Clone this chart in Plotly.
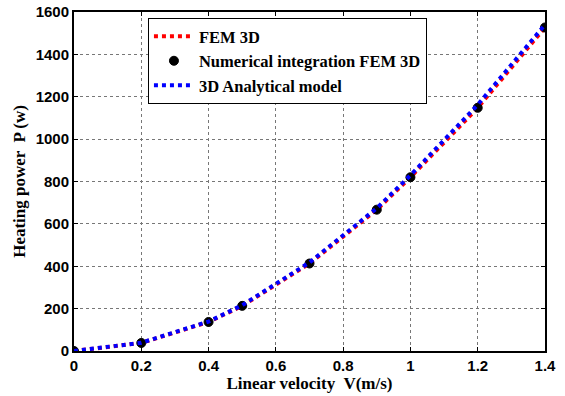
import plotly.graph_objects as go

v = [0, 0.2, 0.4, 0.5, 0.7, 0.9, 1.0, 1.2, 1.4]
fem3d = [0, 38, 137, 213, 413, 667, 820, 1148, 1527]
numint = [0, 38, 137, 213, 413, 667, 820, 1148, 1527]
analytic = [0, 39, 139, 216, 418, 674, 829, 1162, 1540]

fig = go.Figure()
fig.add_trace(go.Scatter(x=v, y=fem3d, mode="lines", name="FEM 3D",
                         line=dict(color="#ff0000", width=4, dash="dot")))
fig.add_trace(go.Scatter(x=v, y=numint, mode="markers", name="Numerical integration FEM 3D",
                         marker=dict(color="black", size=9, symbol="circle",
                                     line=dict(color="black", width=1))))
fig.add_trace(go.Scatter(x=v, y=analytic, mode="lines", name="3D Analytical model",
                         line=dict(color="#0000ff", width=4, dash="dot")))

tickfont = dict(family="Liberation Sans, Arial", size=15, color="black", weight="bold")
titlefont = dict(family="Liberation Serif, Times New Roman", size=17, color="black", weight="bold")

fig.update_layout(
    width=565, height=396,
    margin=dict(l=74, r=20, t=12, b=45, pad=0),
    paper_bgcolor="white", plot_bgcolor="white",
    showlegend=True,
    legend=dict(x=0.157, y=0.982, xanchor="left", yanchor="top",
                bgcolor="white", bordercolor="black", borderwidth=1,
                font=dict(family="Liberation Serif, Times New Roman", size=16.5,
                          color="black", weight="bold"),
                tracegroupgap=0, itemwidth=40),
    xaxis=dict(range=[0, 1.4], tickvals=[0, 0.2, 0.4, 0.6, 0.8, 1, 1.2, 1.4],
               ticktext=["0", "0.2", "0.4", "0.6", "0.8", "1", "1.2", "1.4"],
               showgrid=True, gridcolor="#777777", gridwidth=1, griddash="dot",
               showline=True, linecolor="black", linewidth=2, mirror="ticks",
               ticks="inside", ticklen=4, tickcolor="black", automargin=False,
               tickfont=tickfont, zeroline=False,
               title=dict(text="Linear velocity  V(m/s)", font=titlefont, standoff=2)),
    yaxis=dict(range=[0, 1600], tickvals=list(range(0, 1601, 200)),
               showgrid=True, gridcolor="#777777", gridwidth=1, griddash="dot",
               showline=True, linecolor="black", linewidth=2, mirror="ticks",
               ticks="inside", ticklen=4, tickcolor="black", automargin=False,
               tickfont=tickfont, zeroline=False,
               title=dict(text="Heating power  P (w)", font=titlefont, standoff=6)),
)

fig.write_html("out.html")
